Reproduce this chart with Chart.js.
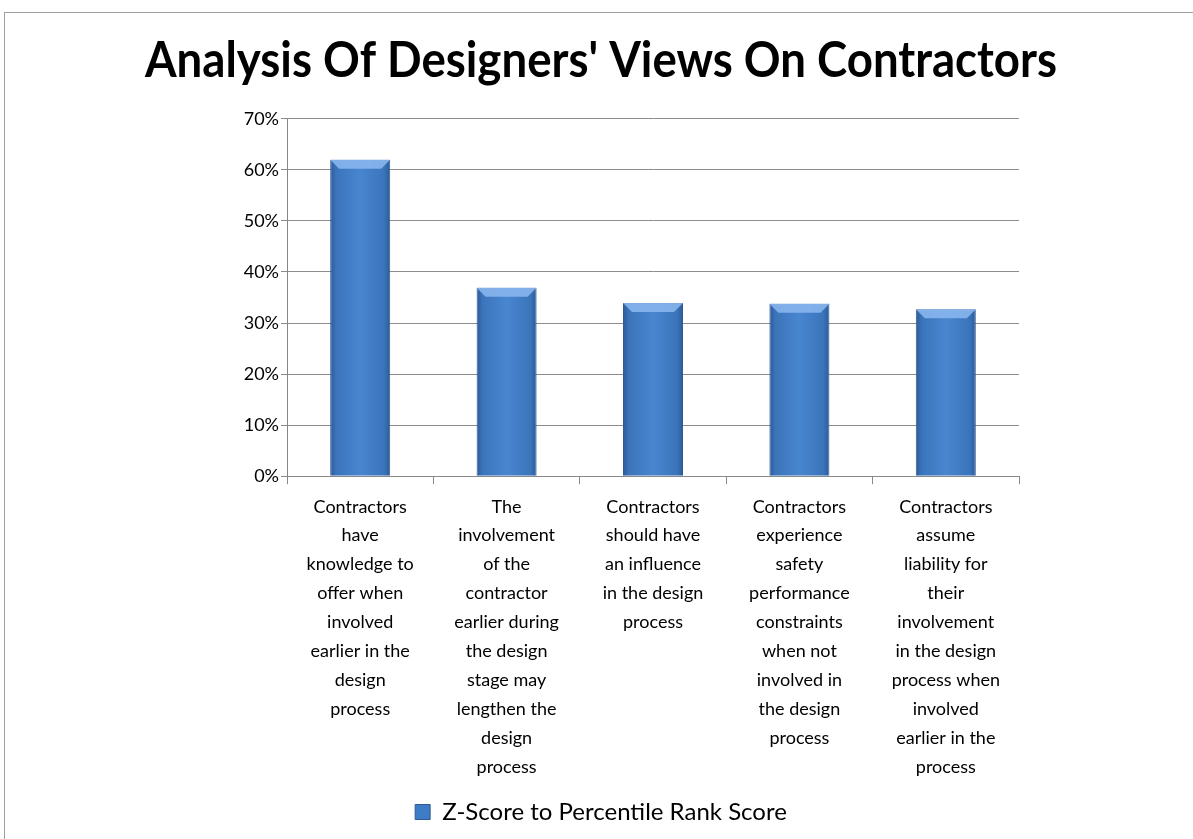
<!DOCTYPE html>
<html>
<head>
<meta charset="utf-8">
<script src="https://cdn.jsdelivr.net/npm/chart.js@4.4.0/dist/chart.umd.min.js"></script>
<style>
  html, body { margin: 0; padding: 0; background: #fff; overflow: hidden; }
  #wrap { position: relative; width: 1193px; height: 839px; }
  #frame { position: absolute; left: 4px; top: 12px; width: 1300px; height: 900px;
           border: 1px solid #a0a0a0; pointer-events: none; }
</style>
</head>
<body>
<div id="wrap">
  <canvas id="myChart" width="1193" height="839"></canvas>
  <div id="frame"></div>
</div>
<script>
// chart data
var categories = [
  ['Contractors', 'have', 'knowledge to', 'offer when', 'involved', 'earlier in the', 'design', 'process'],
  ['The', 'involvement', 'of the', 'contractor', 'earlier during', 'the design', 'stage may', 'lengthen the', 'design', 'process'],
  ['Contractors', 'should have', 'an influence', 'in the design', 'process'],
  ['Contractors', 'experience', 'safety', 'performance', 'constraints', 'when not', 'involved in', 'the design', 'process'],
  ['Contractors', 'assume', 'liability for', 'their', 'involvement', 'in the design', 'process when', 'involved', 'earlier in the', 'process']
];
var seriesName = 'Z-Score to Percentile Rank Score';
var scoreValues = [0.62, 0.369, 0.339, 0.338, 0.327];
var yTicks = [0, 0.1, 0.2, 0.3, 0.4, 0.5, 0.6, 0.7];

var BAR_PCT = 0.82, CAT_PCT = 0.5;

// horizontal gradient to fake the bevelled excel bars
function barFill(context) {
  var chart = context.chart;
  var xs = chart.scales && chart.scales.x;
  if (!chart.chartArea || !xs || context.dataIndex === undefined) return '#3f7cc6';
  var cx = xs.getPixelForValue(context.dataIndex);
  var w = (chart.chartArea.width / categories.length) * BAR_PCT * CAT_PCT;
  var g = chart.ctx.createLinearGradient(cx - w / 2, 0, cx + w / 2, 0);
  g.addColorStop(0, '#2c5a98');
  g.addColorStop(0.1, '#3b74ba');
  g.addColorStop(0.5, '#4886d0');
  g.addColorStop(0.9, '#3b74ba');
  g.addColorStop(1, '#2c5a98');
  return g;
}

// light bevel on top of each bar
var bevelPlugin = {
  id: 'bevel',
  afterDatasetsDraw: function(chart) {
    var c = chart.ctx;
    chart.getDatasetMeta(0).data.forEach(function(bar) {
      var l = bar.x - bar.width / 2, r = bar.x + bar.width / 2, t = bar.y, h = 9;
      c.save();
      c.fillStyle = 'rgba(140,185,240,0.85)';
      c.beginPath();
      c.moveTo(l, t);
      c.lineTo(r, t);
      c.lineTo(r - h, t + h);
      c.lineTo(l + h, t + h);
      c.closePath();
      c.fill();
      c.restore();
    });
  }
};

var ctx = document.getElementById('myChart');
var myChart = new Chart(ctx, {
  type: 'bar',
  data: {
    labels: categories,
    datasets: [{
      label: seriesName,
      data: scoreValues,
      backgroundColor: barFill,
      borderColor: '#2e5a94',
      borderWidth: 1,
      barPercentage: BAR_PCT,
      categoryPercentage: CAT_PCT
    }]
  },
  plugins: [bevelPlugin],
  options: {
    responsive: false,
    animation: false,
    layout: { padding: { left: 145, right: 136, top: 10, bottom: 5 } },
    scales: {
      x: {
        grid: { display: true, offset: true, drawOnChartArea: false, color: '#888', tickLength: 8 },
        border: { color: '#888' },
        ticks: {
          autoSkip: false, maxRotation: 0, minRotation: 0,
          color: '#000', padding: 8,
          font: { family: 'Lato', size: 18, lineHeight: 1.61 }
        }
      },
      y: {
        min: 0, max: 0.7,
        afterFit: function(scale) { scale.width = 142; },
        afterBuildTicks: function(scale) {
          scale.ticks = yTicks.map(function(v) { return { value: v }; });
        },
        grid: { color: '#8c8c8c', tickLength: 6 },
        border: { color: '#888' },
        ticks: {
          color: '#000', padding: 2,
          font: { family: 'Lato', size: 18 },
          callback: function(v) { return Math.round(v * 100) + '%'; }
        }
      },
      // empty right axis, only there to keep the plot narrower than the title
      yRight: {
        position: 'right',
        min: 0, max: 0.7,
        afterFit: function(scale) { scale.width = 38; },
        grid: { display: false },
        border: { display: false },
        ticks: { display: false }
      }
    },
    plugins: {
      title: {
        display: true,
        text: "Analysis Of Designers' Views On Contractors",
        color: '#000',
        font: { family: 'Lato', size: 49, weight: 'bold' },
        padding: { top: 22, bottom: 28 }
      },
      legend: {
        position: 'bottom',
        labels: {
          color: '#000',
          boxWidth: 15, boxHeight: 15,
          font: { family: 'Lato', size: 24 },
          generateLabels: function(chart) {
            return [{ text: seriesName, fillStyle: '#3f7cc6', strokeStyle: '#2e5a94', lineWidth: 1, datasetIndex: 0 }];
          }
        }
      },
      tooltip: { enabled: false }
    }
  }
});
</script>
</body>
</html>
